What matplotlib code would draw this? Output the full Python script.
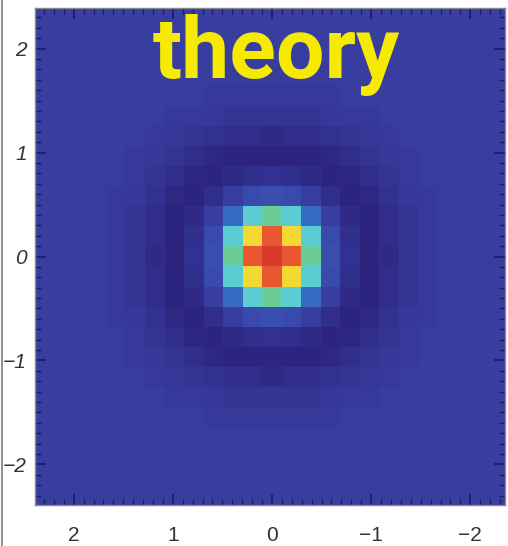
import numpy as np
import matplotlib
matplotlib.use("Agg")
import matplotlib.pyplot as plt
from matplotlib.colors import LinearSegmentedColormap
from matplotlib.lines import Line2D

# intensity map (percent of peak), rows top (y>0) -> bottom, columns left (x>0) -> right
intensity = [
    [0, 0, 0, 0, 0, 0, 0, 0, 0, 0, 0, 0, 0, 0, 0, 0, 0, 0, 0, 0, 0, 0, 0, 0, 0],
    [0, 0, 0, 0, 0, 0, 0, 0, 0, 0, 0, 0, 0, 0, 0, 0, 0, 0, 0, 0, 0, 0, 0, 0, 0],
    [0, 0, 0, 0, 0, 0, 0, 0, 0, 0, 0, 0, 0, 0, 0, 0, 0, 0, 0, 0, 0, 0, 0, 0, 0],
    [0, 0, 0, 0, 0, 0, 0, 0, 0, -1, -1, -1, -1, -1, -1, -1, 0, 0, 0, 0, 0, 0, 0, 0, 0],
    [0, 0, 0, 0, 0, 0, 0, -1, -1, -2, -2, -2, -2, -2, -2, -2, -1, -1, 0, 0, 0, 0, 0, 0, 0],
    [0, 0, 0, 0, 0, 0, -1, -2, -2, -3, -5, -5, -5, -5, -5, -3, -2, -2, -1, 0, 0, 0, 0, 0, 0],
    [0, 0, 0, 0, 0, -1, -2, -3, -5, -6, -8, -8, -9, -8, -8, -6, -5, -3, -2, -1, 0, 0, 0, 0, 0],
    [0, 0, 0, 0, -1, -2, -3, -5, -8, -10, -12, -12, -12, -12, -12, -10, -8, -5, -3, -2, -1, 0, 0, 0, 0],
    [0, 0, 0, 0, -1, -2, -5, -8, -11, -12, -9, -7, -6, -7, -9, -12, -11, -8, -5, -2, -1, 0, 0, 0, 0],
    [0, 0, 0, -1, -2, -3, -6, -10, -12, -8, 0, 9, 12, 9, 0, -8, -12, -10, -6, -3, -2, -1, 0, 0, 0],
    [0, 0, 0, -1, -2, -5, -8, -12, -9, 0, 20, 35, 48, 35, 20, 0, -9, -12, -8, -5, -2, -1, 0, 0, 0],
    [0, 0, 0, -1, -2, -5, -8, -12, -7, 9, 35, 66, 85, 66, 35, 9, -7, -12, -8, -5, -2, -1, 0, 0, 0],
    [0, 0, 0, -1, -2, -5, -9, -12, -6, 12, 48, 85, 100, 85, 48, 12, -6, -12, -9, -5, -2, -1, 0, 0, 0],
    [0, 0, 0, -1, -2, -5, -8, -12, -7, 9, 35, 66, 85, 66, 35, 9, -7, -12, -8, -5, -2, -1, 0, 0, 0],
    [0, 0, 0, -1, -2, -5, -8, -12, -9, 0, 20, 35, 48, 35, 20, 0, -9, -12, -8, -5, -2, -1, 0, 0, 0],
    [0, 0, 0, -1, -2, -3, -6, -10, -12, -8, 0, 9, 12, 9, 0, -8, -12, -10, -6, -3, -2, -1, 0, 0, 0],
    [0, 0, 0, 0, -1, -2, -5, -8, -11, -12, -9, -7, -6, -7, -9, -12, -11, -8, -5, -2, -1, 0, 0, 0, 0],
    [0, 0, 0, 0, -1, -2, -3, -5, -8, -10, -12, -12, -12, -12, -12, -10, -8, -5, -3, -2, -1, 0, 0, 0, 0],
    [0, 0, 0, 0, 0, -1, -2, -3, -5, -6, -8, -8, -9, -8, -8, -6, -5, -3, -2, -1, 0, 0, 0, 0, 0],
    [0, 0, 0, 0, 0, 0, -1, -2, -2, -3, -5, -5, -5, -5, -5, -3, -2, -2, -1, 0, 0, 0, 0, 0, 0],
    [0, 0, 0, 0, 0, 0, 0, -1, -1, -2, -2, -2, -2, -2, -2, -2, -1, -1, 0, 0, 0, 0, 0, 0, 0],
    [0, 0, 0, 0, 0, 0, 0, 0, 0, -1, -1, -1, -1, -1, -1, -1, 0, 0, 0, 0, 0, 0, 0, 0, 0],
    [0, 0, 0, 0, 0, 0, 0, 0, 0, 0, 0, 0, 0, 0, 0, 0, 0, 0, 0, 0, 0, 0, 0, 0, 0],
    [0, 0, 0, 0, 0, 0, 0, 0, 0, 0, 0, 0, 0, 0, 0, 0, 0, 0, 0, 0, 0, 0, 0, 0, 0],
    [0, 0, 0, 0, 0, 0, 0, 0, 0, 0, 0, 0, 0, 0, 0, 0, 0, 0, 0, 0, 0, 0, 0, 0, 0],
]
tick_vals = [2, 1, 0, -1, -2]
tick_labels = ["2", "1", "0", "\u22121", "\u22122"]
title = "theory"

# colour anchors (value, rgb)
vmin, vmax = -12, 100
anchors = [(-12, (44, 36, 126)), (-6, (51, 50, 146)), (0, (57, 63, 160)),
           (12, (56, 80, 176)), (20, (55, 106, 194)), (35, (92, 205, 210)),
           (48, (104, 206, 150)), (66, (245, 218, 52)), (85, (234, 88, 50)),
           (100, (214, 56, 46))]
cmap = LinearSegmentedColormap.from_list(
    "theory", [((v - vmin) / (vmax - vmin), tuple(c / 255 for c in rgb)) for v, rgb in anchors])

data = np.array(intensity, dtype=float)
ny, nx = data.shape
cw, ch = 0.197, 0.193   # cell size in axis units

fig = plt.figure(figsize=(5.08, 5.46), dpi=100)
ax = fig.add_axes([35 / 508, 41 / 546, 470 / 508, 497 / 546])
ax.imshow(data, cmap=cmap, vmin=vmin, vmax=vmax, interpolation="nearest",
          extent=[nx / 2 * cw, -nx / 2 * cw, -ny / 2 * ch, ny / 2 * ch], aspect="auto")
ax.set_xlim(2.39, -2.35)
ax.set_ylim(-2.39, 2.39)

ax.set_xticks(tick_vals)
ax.set_xticklabels(tick_labels, fontsize=15, color="#333333", family=["Liberation Sans", "DejaVu Sans"])
ax.set_yticks(tick_vals)
ax.set_yticklabels(tick_labels, fontsize=15, color="#333333", style="italic",
                   family=["Liberation Sans", "DejaVu Sans"])
ax.set_xticks(np.arange(-23, 24) / 10, minor=True)
ax.set_yticks(np.arange(-23, 24) / 10, minor=True)
ax.tick_params(which="both", direction="in", top=True, right=True, color="#1c1c60")
ax.tick_params(which="major", length=8, width=1.2)
ax.tick_params(which="minor", length=4, width=1.0)
ax.tick_params(axis="x", which="major", pad=15)
ax.tick_params(axis="y", which="major", pad=6)
for s in ax.spines.values():
    s.set_color("#8a8a8a")
    s.set_linewidth(1.0)

ax.text(-0.04, 1.72, title, ha="center", va="baseline", color="#f5ea00",
        fontsize=62, fontweight="bold", family=["Roboto", "Liberation Sans"])

# thin grey border at the left edge of the picture
fig.add_artist(Line2D([1.5 / 508, 1.5 / 508], [0, 1], transform=fig.transFigure,
                      color="#7a7a7a", linewidth=1.2))

fig.savefig("out.png", dpi=100)
